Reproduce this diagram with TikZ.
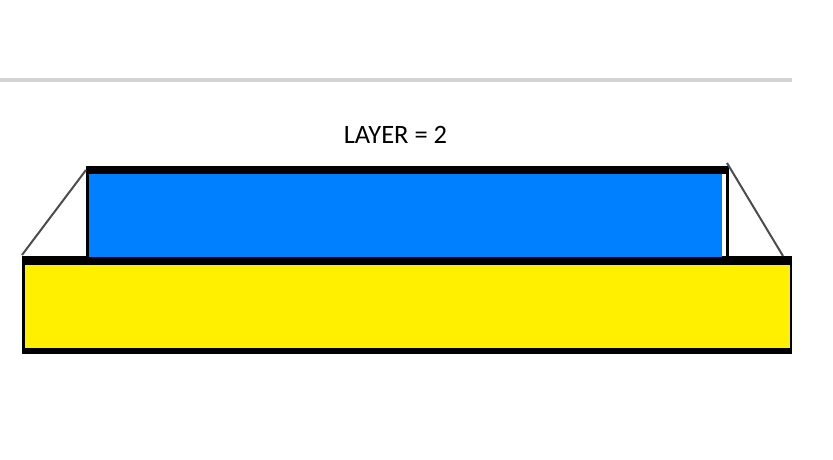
\documentclass[tikz,border=0pt]{standalone}
\usepackage{fontspec}
\setmainfont{Carlito}
\usetikzlibrary{positioning}
\definecolor{layerblue}{RGB}{0,127,255}
\definecolor{layeryellow}{RGB}{255,240,0}
\definecolor{rulegray}{RGB}{211,211,211}

\begin{document}
\begin{tikzpicture}[x=1pt, y=-1pt,
        bar/.style={fill=black, draw=none},
        slant/.style={draw=black!70, line width=2pt}]
            \useasboundingbox (0,0) rectangle (833,460);
            \begin{scope}[shift={(0,0)}]
                \fill[rulegray] (0,78) rectangle (792,82);

                \node[font=\fontsize{26.5}{32}\selectfont, inner sep=0pt] (title) at (395.5,135) {LAYER = 2};

                % yellow base
                \fill[layeryellow] (22,256) rectangle (792,354);
                \fill[bar] (22,256) rectangle (792,265);
                \fill[bar] (22,348) rectangle (792,354);
                \fill[bar] (22,256) rectangle (24.5,354);
                \fill[bar] (789.5,256) rectangle (792,354);

                % blue layer
                \fill[layerblue] (88,173) rectangle (722,257);
                \fill[bar] (86,166) rectangle (727,173.5);
                \fill[bar] (86,166) rectangle (88.5,257);
                \fill[bar] (726,166) rectangle (728.5,257);

                \coordinate (tl) at (86,170);
                \coordinate (tr) at (727,163);
                \coordinate (bl) at (22,255);
                \coordinate (br) at (783,256);

                \draw[slant] (tl) -- (bl);
                \draw[slant] (tr) -- (br);
            \end{scope}
        \end{tikzpicture}
\end{document}
